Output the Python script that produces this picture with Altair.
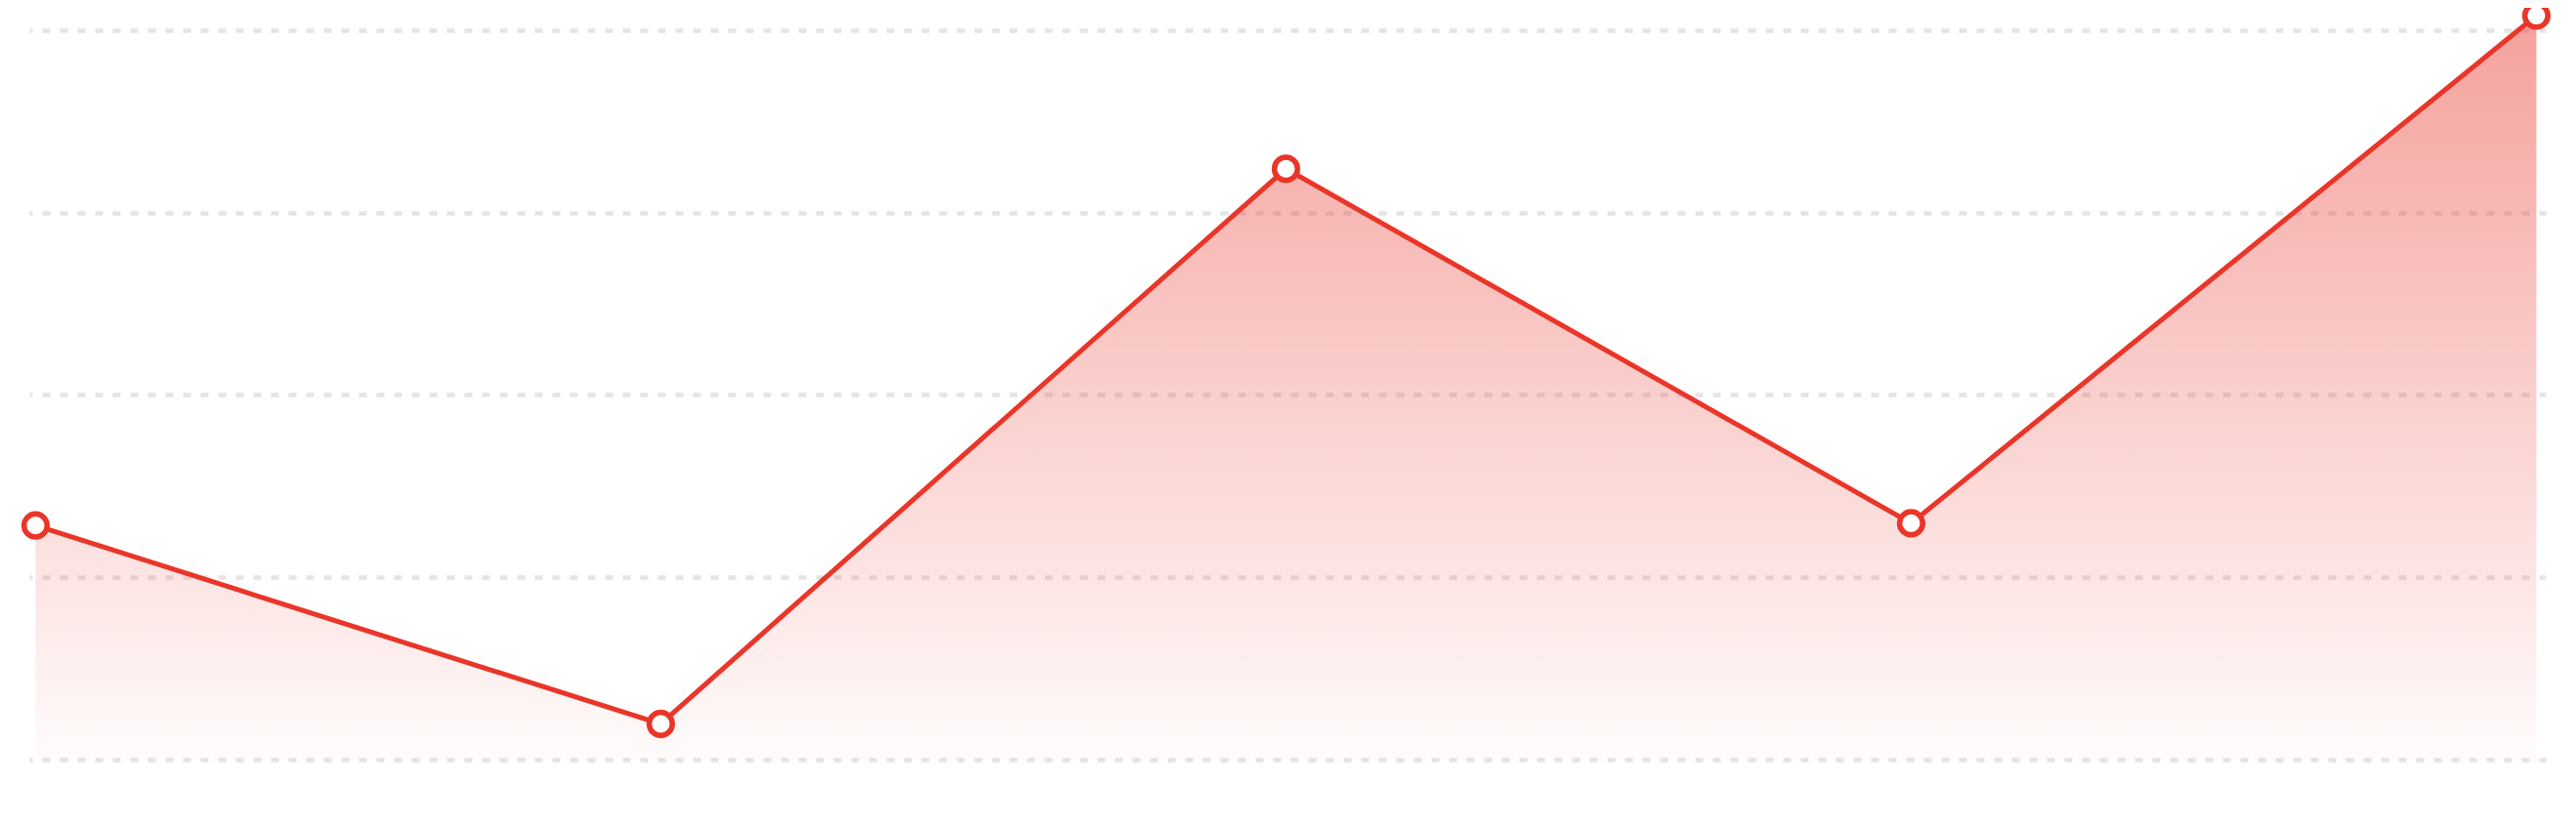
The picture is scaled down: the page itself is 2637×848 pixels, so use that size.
import altair as alt
import pandas as pd

# Data
positions = [0, 1, 2, 3, 4]
values = [32.1, 4.9, 81.0, 32.4, 102.0]
grid_values = [0, 25, 50, 75, 100]

df = pd.DataFrame({"idx": positions, "value": values})

LINE = "#ea3529"

x_enc = alt.X("idx:Q", scale=alt.Scale(domain=[-0.01, 4.015], nice=False, zero=False), axis=None)
y_enc = alt.Y(
    "value:Q",
    scale=alt.Scale(domain=[0, 102], nice=False, zero=True),
    axis=alt.Axis(
        values=grid_values,
        labels=False,
        ticks=False,
        domain=False,
        title=None,
        grid=True,
        gridDash=[8, 10],
        gridDashOffset=5,
        gridWidth=4.5,
        gridColor="#e4e4e4",
    ),
)

base = alt.Chart(df).encode(x=x_enc, y=y_enc)

area = base.mark_area(
    color=alt.Gradient(
        gradient="linear",
        stops=[
            alt.GradientStop(color="rgba(233,55,45,0.47)", offset=0),
            alt.GradientStop(color="rgba(233,55,45,0.02)", offset=1),
        ],
        x1=1, x2=1, y1=0, y2=1,
    )
)

line = base.mark_line(color=LINE, strokeWidth=5)

points = base.mark_point(
    shape="circle", filled=True, fill="white", stroke=LINE, strokeWidth=5.5, size=560, opacity=1
)

chart = (
    alt.layer(area, line, points)
    .properties(
        width=2576,
        height=762,
        padding={"left": 22, "top": 8, "right": 22, "bottom": 10},
        autosize=alt.AutoSizeParams(type="none"),
        background="white",
    )
    .configure_view(stroke=None)
)

chart.save("out.html", embed_options={"renderer": "svg", "actions": False})
